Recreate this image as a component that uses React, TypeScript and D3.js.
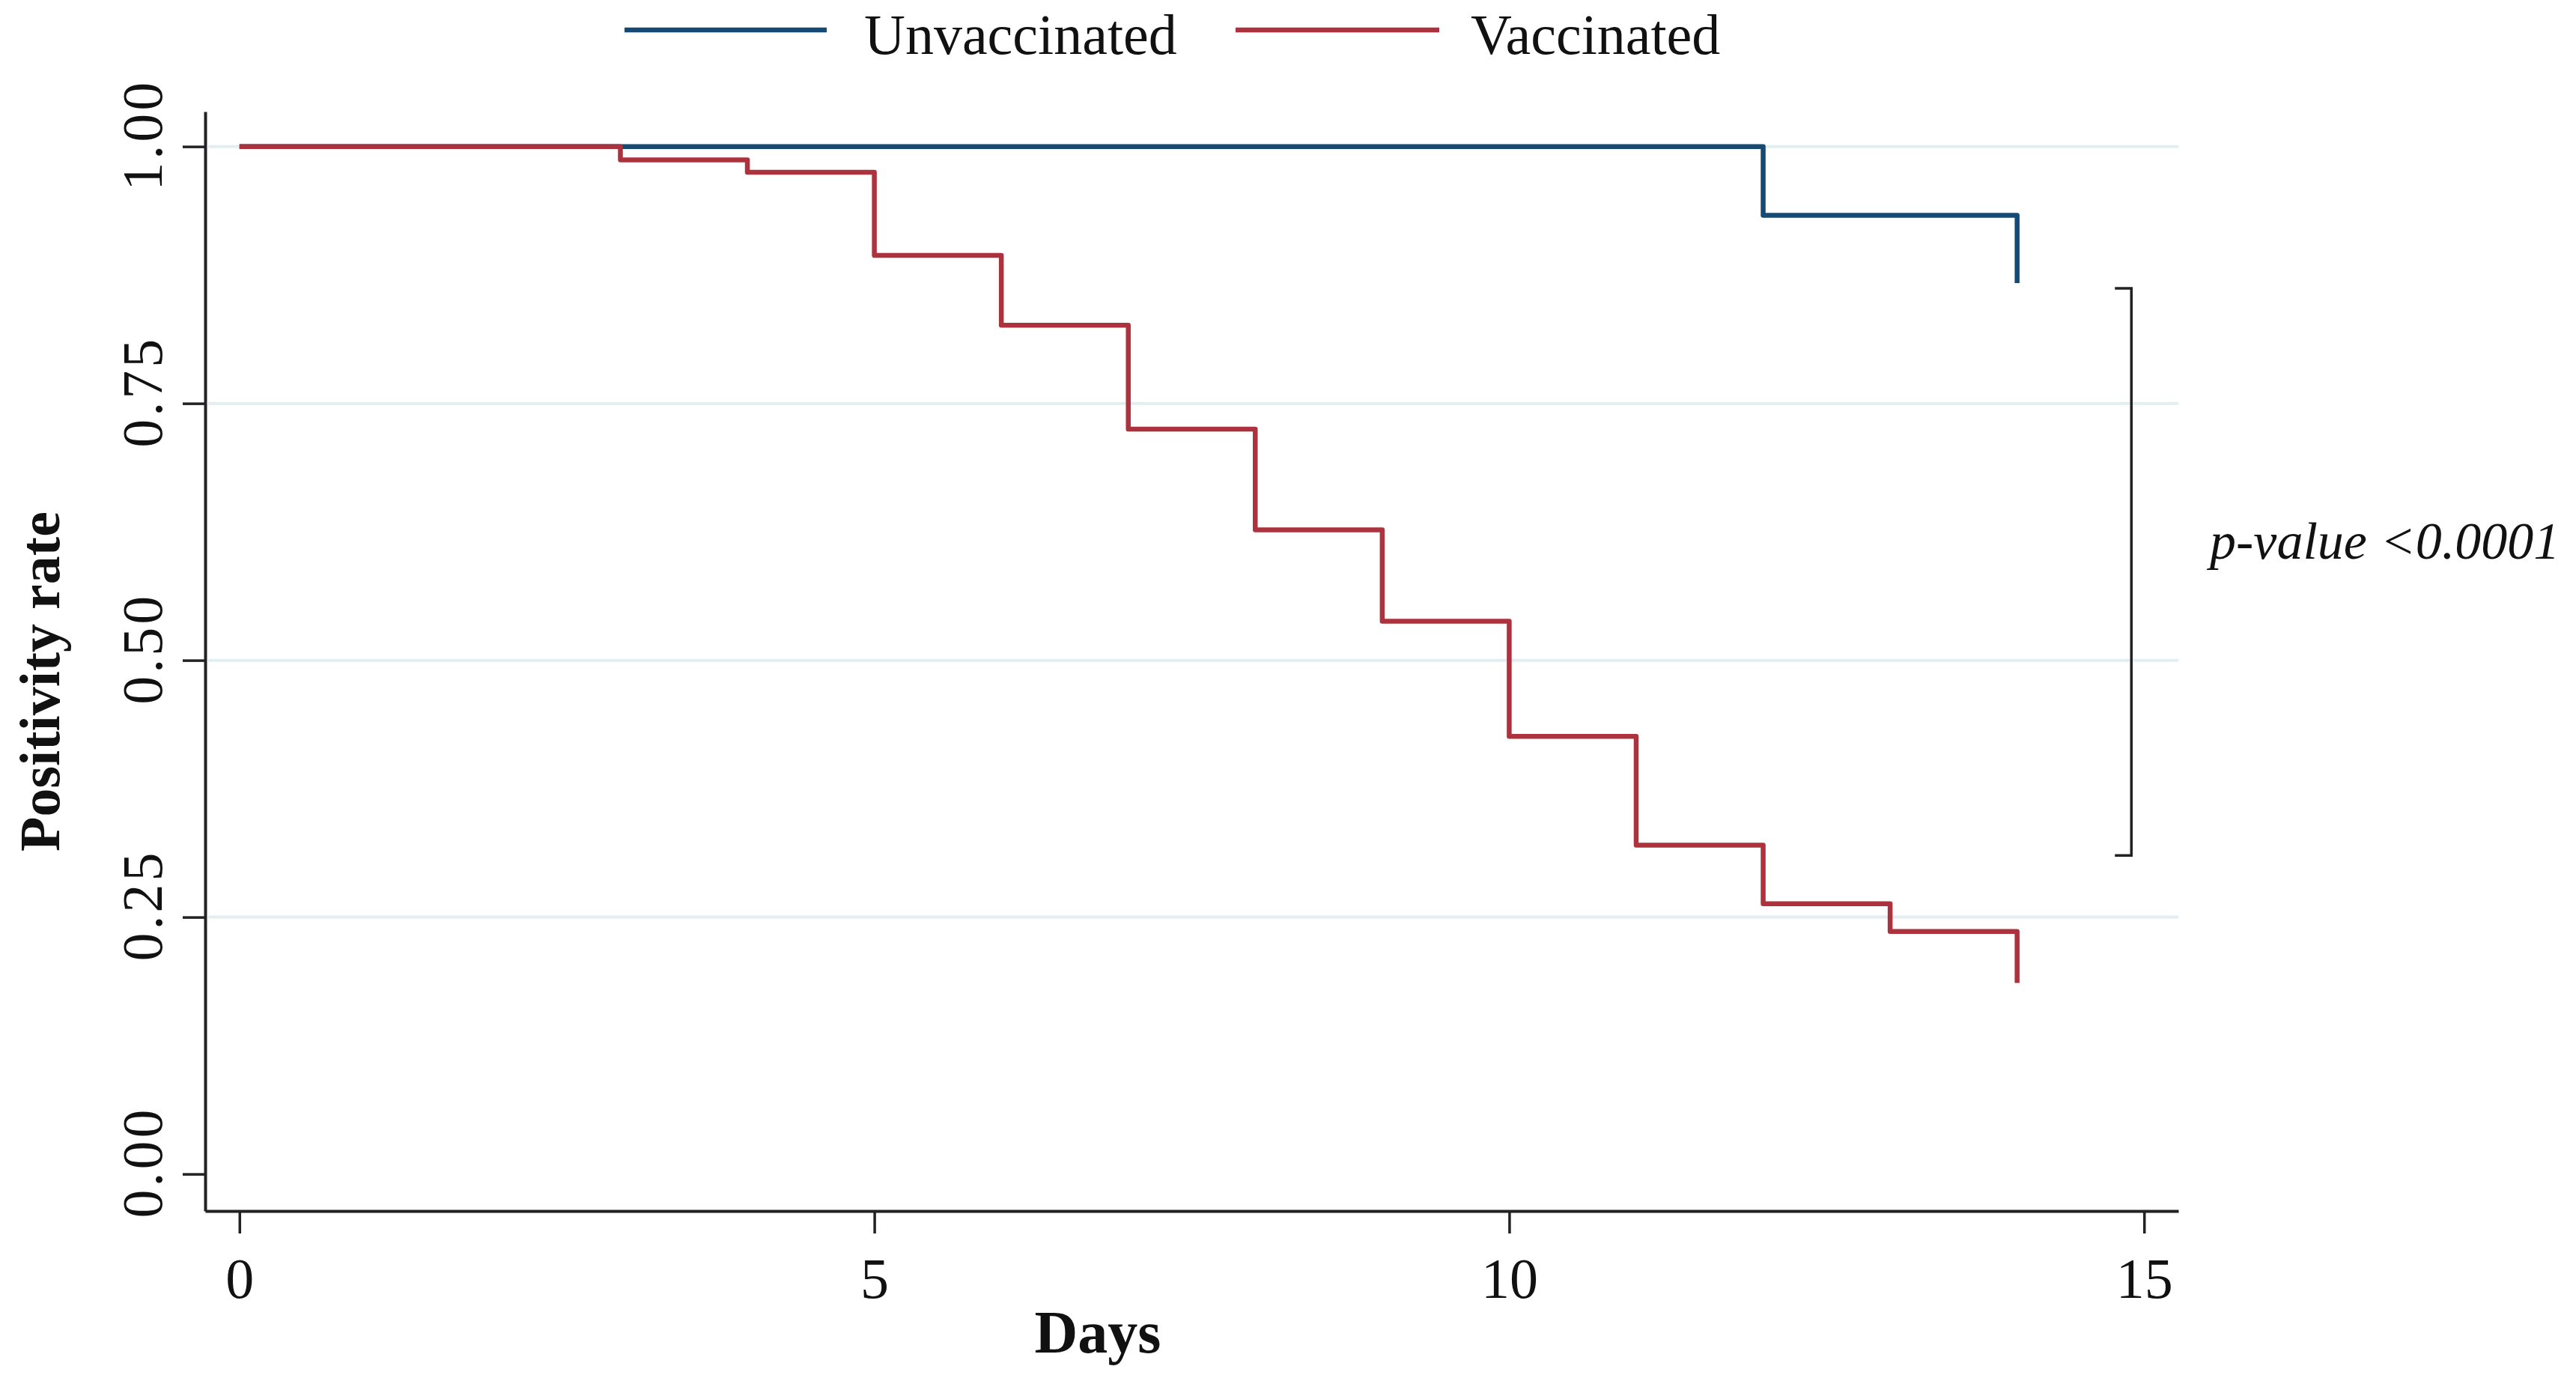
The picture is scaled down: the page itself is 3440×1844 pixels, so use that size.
import React, { useRef, useEffect } from 'react'
import * as d3 from 'd3'

// Kaplan-Meier style step data
const days = [0, 3, 4, 5, 6, 7, 8, 9, 10, 11, 12, 13, 14]
const vaccinatedRate = [1, 0.987, 0.975, 0.894, 0.826, 0.725, 0.627, 0.538, 0.426, 0.32, 0.263, 0.236, 0.186]
const unvaccinatedDays = [0, 12, 14]
const unvaccinatedRate = [1, 0.933, 0.867]

const xTicks = [0, 5, 10, 15]
const yTicks = [0, 0.25, 0.5, 0.75, 1]
const gridTicks = [0.25, 0.5, 0.75, 1]
const xExtent: [number, number] = [-0.27, 15.27]
const yExtent: [number, number] = [-0.036, 1.034]

const legendItems = [
  { label: 'Unvaccinated', color: '#164a73' },
  { label: 'Vaccinated', color: '#ac333d' }
]

// bracket spanning the gap at the end of follow-up
const bracketDay = 14.9
const bracketRange = [0.862, 0.31]
const pValueLabel = 'p-value <0.0001'

const W = 3440
const H = 1844
const FONT = '"Liberation Serif", "DejaVu Serif", serif'

export default function App() {
  const svgRef = useRef<SVGSVGElement | null>(null)

  useEffect(() => {
    if (!svgRef.current) return
    const svg = d3.select(svgRef.current)
    svg.selectAll('*').remove()

    const x = d3.scaleLinear().domain(xExtent).range([274, 2909])
    const y = d3.scaleLinear().domain(yExtent).range([1617, 149])

    svg.append('rect').attr('width', W).attr('height', H).attr('fill', '#fff')

    // gridlines
    svg.append('g')
      .selectAll('line')
      .data(gridTicks)
      .enter().append('line')
      .attr('x1', x(xExtent[0]) + 4)
      .attr('x2', x(xExtent[1]))
      .attr('y1', d => y(d))
      .attr('y2', d => y(d))
      .attr('stroke', '#e3eef0')
      .attr('stroke-width', 4)

    // x axis
    const gx = svg.append('g')
      .attr('transform', `translate(0,${y(yExtent[0])})`)
      .call(d3.axisBottom(x).tickValues(xTicks).tickSize(30).tickSizeOuter(0).tickFormat(d3.format('d')))
    gx.select('.domain').attr('stroke', '#222').attr('stroke-width', 4)
    gx.selectAll('.tick line').attr('stroke', '#222').attr('stroke-width', 3.5)
    gx.selectAll('.tick text')
      .attr('y', 116)
      .attr('dy', null)
      .attr('fill', '#111')
      .style('font-family', FONT)
      .style('font-size', '76px')

    // y axis
    const gy = svg.append('g')
      .attr('transform', `translate(${x(xExtent[0])},0)`)
      .call(d3.axisLeft(y).tickValues(yTicks).tickSize(30).tickSizeOuter(0).tickFormat(d3.format('.2f')))
    gy.select('.domain').attr('stroke', '#222').attr('stroke-width', 4)
    gy.selectAll('.tick line').attr('stroke', '#222').attr('stroke-width', 3.5)
    gy.selectAll('.tick text')
      .attr('x', null)
      .attr('dy', null)
      .attr('text-anchor', 'middle')
      .attr('transform', 'translate(-58,-16) rotate(-90)')
      .attr('fill', '#111')
      .style('font-family', FONT)
      .style('font-size', '76px')
      .style('letter-spacing', '4px')

    // step curves
    const line = d3.line<[number, number]>()
      .x(d => x(d[0]))
      .y(d => y(d[1]))
      .curve(d3.curveStepAfter)

    const series = [
      { pts: unvaccinatedDays.map((d, i) => [d, unvaccinatedRate[i]] as [number, number]), color: legendItems[0].color },
      { pts: days.map((d, i) => [d, vaccinatedRate[i]] as [number, number]), color: legendItems[1].color }
    ]
    series.forEach(s => {
      svg.append('path')
        .attr('d', line(s.pts))
        .attr('fill', 'none')
        .attr('stroke', s.color)
        .attr('stroke-width', 6.5)
        .attr('stroke-linejoin', 'round')
    })

    // bracket + p-value
    const bx = x(bracketDay)
    const bt = x(bracketDay - 0.13)
    svg.append('path')
      .attr('d', `M${bt},${y(bracketRange[0])}H${bx}V${y(bracketRange[1])}H${bt}`)
      .attr('fill', 'none')
      .attr('stroke', '#222')
      .attr('stroke-width', 3.5)
    svg.append('text')
      .attr('x', 2951)
      .attr('y', 746)
      .attr('fill', '#111')
      .style('font-family', FONT)
      .style('font-style', 'italic')
      .style('font-size', '70px')
      .text(pValueLabel)

    // axis titles
    svg.append('text')
      .attr('x', 1466)
      .attr('y', 1806)
      .attr('text-anchor', 'middle')
      .attr('fill', '#111')
      .style('font-family', FONT)
      .style('font-weight', 'bold')
      .style('font-size', '80px')
      .text('Days')
    svg.append('text')
      .attr('transform', 'translate(79,910) rotate(-90)')
      .attr('text-anchor', 'middle')
      .attr('fill', '#111')
      .style('font-family', FONT)
      .style('font-weight', 'bold')
      .style('font-size', '76px')
      .text('Positivity rate')

    // legend
    const legendPos = [
      { x1: 834, x2: 1104, tx: 1154 },
      { x1: 1650, x2: 1922, tx: 1964 }
    ]
    legendItems.forEach((item, i) => {
      const p = legendPos[i]
      svg.append('line')
        .attr('x1', p.x1).attr('x2', p.x2)
        .attr('y1', 40).attr('y2', 40)
        .attr('stroke', item.color)
        .attr('stroke-width', 6.5)
      svg.append('text')
        .attr('x', p.tx)
        .attr('y', 72)
        .attr('fill', '#111')
        .style('font-family', FONT)
        .style('font-size', '76px')
        .text(item.label)
    })
  }, [])

  return (
    <svg
      ref={svgRef}
      width={W}
      height={H}
      style={{ position: 'absolute', left: 0, top: 0, display: 'block' }}
    />
  )
}
